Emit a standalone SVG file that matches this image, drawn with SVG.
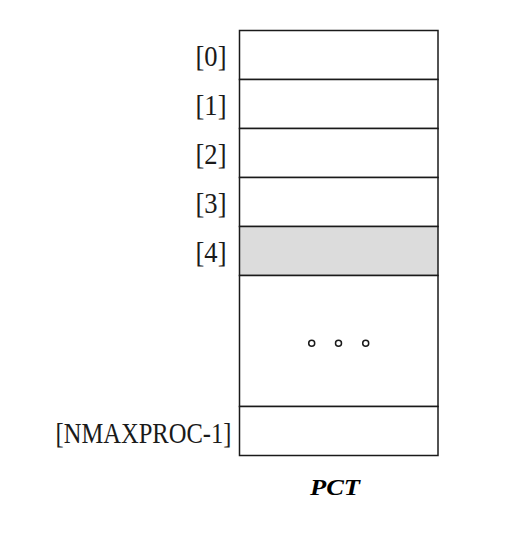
<svg xmlns="http://www.w3.org/2000/svg" width="510" height="548" viewBox="0 0 510 548">
<style>
.cell{fill:#ffffff;stroke:#1a1a1a;stroke-width:1.5}
.hl{fill:#dcdcdc}
.lbl{font-family:"Liberation Serif","Times New Roman",serif;font-size:29px;fill:#1a1a1a;text-anchor:end}
.title{font-family:"Liberation Serif","Times New Roman",serif;font-size:24px;font-weight:bold;font-style:italic;fill:#000;text-anchor:middle}
.dot{fill:#fff;stroke:#1a1a1a;stroke-width:1.5}
</style>
<rect width="510" height="548" fill="#ffffff"/>
<g id="row0"><rect class="cell" x="239.5" y="30.5" width="198.5" height="49"/><text class="lbl" x="226.5" y="66" textLength="31" lengthAdjust="spacingAndGlyphs">[0]</text></g>
<g id="row1"><rect class="cell" x="239.5" y="79.5" width="198.5" height="49"/><text class="lbl" x="226.5" y="115" textLength="31" lengthAdjust="spacingAndGlyphs">[1]</text></g>
<g id="row2"><rect class="cell" x="239.5" y="128.5" width="198.5" height="49"/><text class="lbl" x="226.5" y="164" textLength="31" lengthAdjust="spacingAndGlyphs">[2]</text></g>
<g id="row3"><rect class="cell" x="239.5" y="177.5" width="198.5" height="49"/><text class="lbl" x="226.5" y="213" textLength="31" lengthAdjust="spacingAndGlyphs">[3]</text></g>
<g id="row4"><rect class="cell hl" x="239.5" y="226.5" width="198.5" height="49"/><text class="lbl" x="226.5" y="262" textLength="31" lengthAdjust="spacingAndGlyphs">[4]</text></g>
<g id="rowdots"><rect class="cell" x="239.5" y="275.5" width="198.5" height="131"/>
<circle class="dot" cx="311.7" cy="343.3" r="3"/><circle class="dot" cx="338.5" cy="343.3" r="3"/><circle class="dot" cx="365.7" cy="343.3" r="3"/></g>
<g id="rowlast"><rect class="cell" x="239.5" y="406.5" width="198.5" height="49"/><text class="lbl" x="231.5" y="442.5" textLength="176" lengthAdjust="spacingAndGlyphs">[NMAXPROC-1]</text></g>
<g id="title"><text class="title" x="335" y="494.5" textLength="50" lengthAdjust="spacingAndGlyphs">PCT</text></g>
<g id="connectors"></g>
</svg>
